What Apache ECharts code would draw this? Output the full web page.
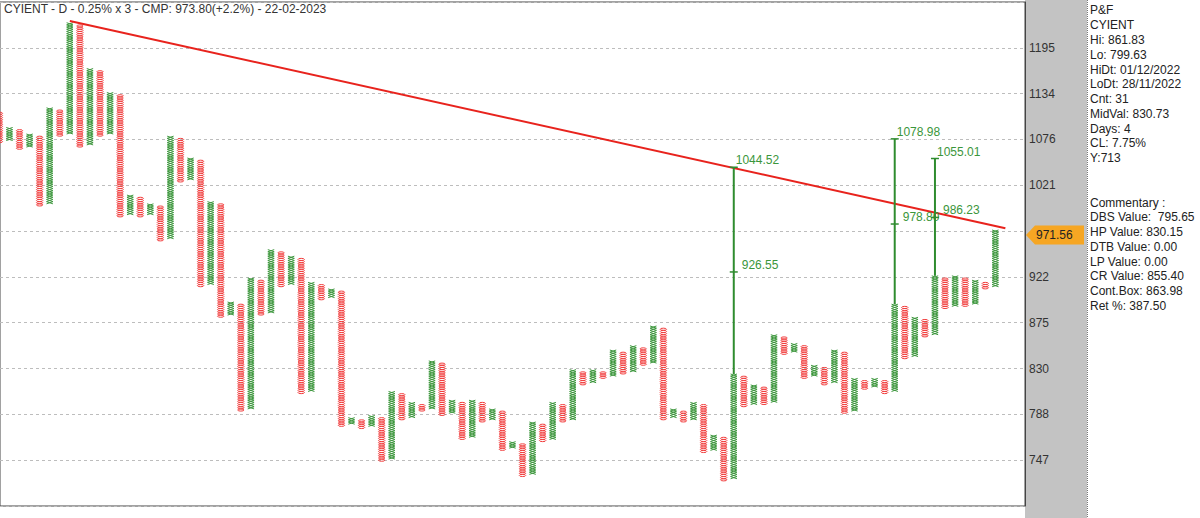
<!DOCTYPE html>
<html>
<head>
<meta charset="utf-8">
<title>CYIENT P&amp;F</title>
<script src="https://cdn.jsdelivr.net/npm/echarts@6/dist/echarts.min.js"></script>
<style>
  html, body { margin: 0; padding: 0; background: #fff; }
  #main { width: 1200px; height: 518px; }
</style>
</head>
<body>
<div id="main"></div>
<script>
// P&F columns, in boxes of 0.25% counted from the 747 grid line; columns alternate O / X
const firstColumn = 'O';
const colLow = [146,147,143,144,117,118,149,150,144,145,149,150,112,113,112,113,101,102,128,129,
  80,81,66,67,23,24,67,68,80,81,31,32,74,75,16,17,15,16,0,1,
  19,20,23,24,21,22,10,11,18,19,5,6,-7,-6,9,10,18,19,35,36,
  38,39,40,41,44,45,19,20,18,19,4,5,-9,-8,25,26,26,27,49,50,
  38,39,35,36,22,23,33,34,31,32,47,48,57,58,70,71,71,72,79,80];
const colHigh = [159,152,151,149,148,161,160,200,199,179,178,168,167,121,120,117,116,148,147,138,
  137,118,117,72,71,83,82,96,95,93,92,81,80,78,77,19,18,20,19,31,
  30,26,25,45,44,27,26,27,26,23,22,8,7,17,16,26,25,41,40,41,
  40,50,49,52,51,61,60,23,22,26,25,11,10,39,38,34,33,57,56,53,
  52,43,42,50,49,37,36,37,36,71,70,65,64,84,83,84,83,82,81,105];

// price axis labels, one every 21 boxes
const tickLabels = ['747','788','830','875','922','971','1021','1076','1134','1195'];
const boxPct = 0.25;
const basePrice = 747;

// trend line (column, box)
const trendCols = [7, 100];
const trendBoxes = [201.3, 106.3];

// price targets
const targetCols = [73, 89, 93];
const targetTop = [1044.52, 1078.98, 1055.01];
const targetMid = [926.55, 978.80, 986.23];

const lastPrice = 971.56;
const title = 'CYIENT - D - 0.25% x 3 - CMP: 973.80(+2.2%) - 22-02-2023';
const infoLines = ['P&F','CYIENT','Hi: 861.83','Lo: 799.63','HiDt: 01/12/2022','LoDt: 28/11/2022',
  'Cnt: 31','MidVal: 830.73','Days: 4','CL: 7.75%','Y:713','','',
  'Commentary :','DBS Value:  795.65','HP Value: 830.15','DTB Value: 0.00','LP Value: 0.00',
  'CR Value: 855.40','Cont.Box: 863.98','Ret %: 387.50'];

const GREEN = '#3b963b';
const RED = '#f23d3d';
const FONT = '"Liberation Sans", Arial, sans-serif';

function boxOf(p) {
  return Math.log(p / basePrice) / Math.log(1 + boxPct / 100);
}

const colData = colLow.map((lo, i) => [i, lo, colHigh[i]]);

function renderColumn(params, api) {
  const i = api.value(0), lo = api.value(1), hi = api.value(2);
  const isX = (i % 2 === 0) ? firstColumn === 'X' : firstColumn === 'O';
  const h = api.size([0, 1])[1];
  const w = 3.2;
  let d = '';
  for (let b = lo; b <= hi; b++) {
    const p = api.coord([i, b]);
    const x = p[0], y = p[1];
    if (isX) {
      d += 'M' + (x - w) + ' ' + (y - h / 2) + 'L' + (x + w) + ' ' + (y + h / 2) +
           'M' + (x - w) + ' ' + (y + h / 2) + 'L' + (x + w) + ' ' + (y - h / 2);
    } else {
      d += 'M' + (x - w) + ' ' + y + 'A' + w + ' ' + (h / 2) + ' 0 1 0 ' + (x + w) + ' ' + y +
           'A' + w + ' ' + (h / 2) + ' 0 1 0 ' + (x - w) + ' ' + y;
    }
  }
  return {
    type: 'path',
    shape: { pathData: d },
    style: { fill: 'none', stroke: isX ? GREEN : RED, lineWidth: 1 }
  };
}

function renderTarget(params, api) {
  const i = params.dataIndex;
  const col = targetCols[i];
  const pBase = api.coord([col, colHigh[col] + 0.5]);
  const pTop = api.coord([col, boxOf(targetTop[i])]);
  const pMid = api.coord([col, boxOf(targetMid[i])]);
  const x = pTop[0];
  const txt = (px, py, s) => ({
    type: 'text',
    style: { x: px, y: py, text: s, fill: GREEN, font: '12px ' + FONT, verticalAlign: 'bottom' }
  });
  return {
    type: 'group',
    children: [
      { type: 'line', shape: { x1: x, y1: pTop[1], x2: x, y2: pBase[1] }, style: { stroke: '#2f8c2f', lineWidth: 2 } },
      { type: 'line', shape: { x1: x - 4, y1: pTop[1], x2: x + 4, y2: pTop[1] }, style: { stroke: '#2f8c2f', lineWidth: 1.5 } },
      { type: 'line', shape: { x1: x - 4, y1: pMid[1], x2: x + 4, y2: pMid[1] }, style: { stroke: '#2f8c2f', lineWidth: 1.5 } },
      txt(x + 2, pTop[1] - 1, targetTop[i].toFixed(2)),
      txt(x + 8, pMid[1] - 1, targetMid[i].toFixed(2))
    ]
  };
}

const chart = echarts.init(document.getElementById('main'), null, { renderer: 'svg' });

// the grid label that sits under the last-price tag is hidden, as in the source
const coveredTick = Math.round(boxOf(lastPrice) / 21);

chart.setOption({
  animation: false,
  backgroundColor: '#fff',
  grid: {
    left: 0, right: 175, top: 2, bottom: 12,
    show: true, backgroundColor: '#fff', borderColor: '#444', borderWidth: 1
  },
  xAxis: {
    type: 'value', min: 0.06, max: 101.95, show: false
  },
  yAxis: {
    type: 'value', position: 'right', min: -21, max: 210, interval: 21,
    axisLine: { show: true, lineStyle: { color: '#444' } },
    axisTick: { show: false },
    axisLabel: {
      formatter: v => {
        const k = Math.round(v / 21);
        return k === coveredTick ? '' : (tickLabels[k] || '');
      },
      color: '#333', fontSize: 12, fontFamily: FONT, margin: 4
    },
    splitLine: { show: true, lineStyle: { color: '#bdbdbd', type: [3, 3] } }
  },
  series: [
    { type: 'custom', name: 'columns', clip: true, renderItem: renderColumn, data: colData, z: 2 },
    {
      type: 'line', name: 'trend', data: trendCols.map((c, i) => [c, trendBoxes[i]]),
      symbol: 'none', lineStyle: { color: '#e8231d', width: 2 }, z: 3
    },
    { type: 'custom', name: 'targets', renderItem: renderTarget, data: targetCols.map((c, i) => [c, i]), z: 4 }
  ]
});

const yLast = chart.convertToPixel({ yAxisIndex: 0 }, boxOf(lastPrice)) + 4.5;

chart.setOption({
  graphic: [
    { type: 'rect', z: -10, shape: { x: 1025, y: 0, width: 62, height: 518 }, style: { fill: '#c3c3c3' } },
    { type: 'line', z: 5, shape: { x1: 1087.5, y1: 0, x2: 1087.5, y2: 518 }, style: { stroke: '#777', lineWidth: 1, lineDash: [1, 1] } },
    { type: 'text', z: 5, style: { x: 4, y: 3, text: title, fill: '#333', font: '12px ' + FONT } },
    {
      type: 'polygon', z: 5,
      shape: { points: [[1026, yLast], [1035, yLast - 9.5], [1084, yLast - 9.5], [1084, yLast + 9.5], [1035, yLast + 9.5]] },
      style: { fill: '#f6a623' }
    },
    { type: 'text', z: 6, style: { x: 1036, y: yLast, text: lastPrice.toFixed(2), fill: '#222', font: '12px ' + FONT, verticalAlign: 'middle' } },
    {
      type: 'text', z: 5,
      style: { x: 1090, y: 3, text: infoLines.join('\n'), fill: '#222', font: '12px ' + FONT, lineHeight: 14.78 }
    }
  ]
});
</script>
</body>
</html>
